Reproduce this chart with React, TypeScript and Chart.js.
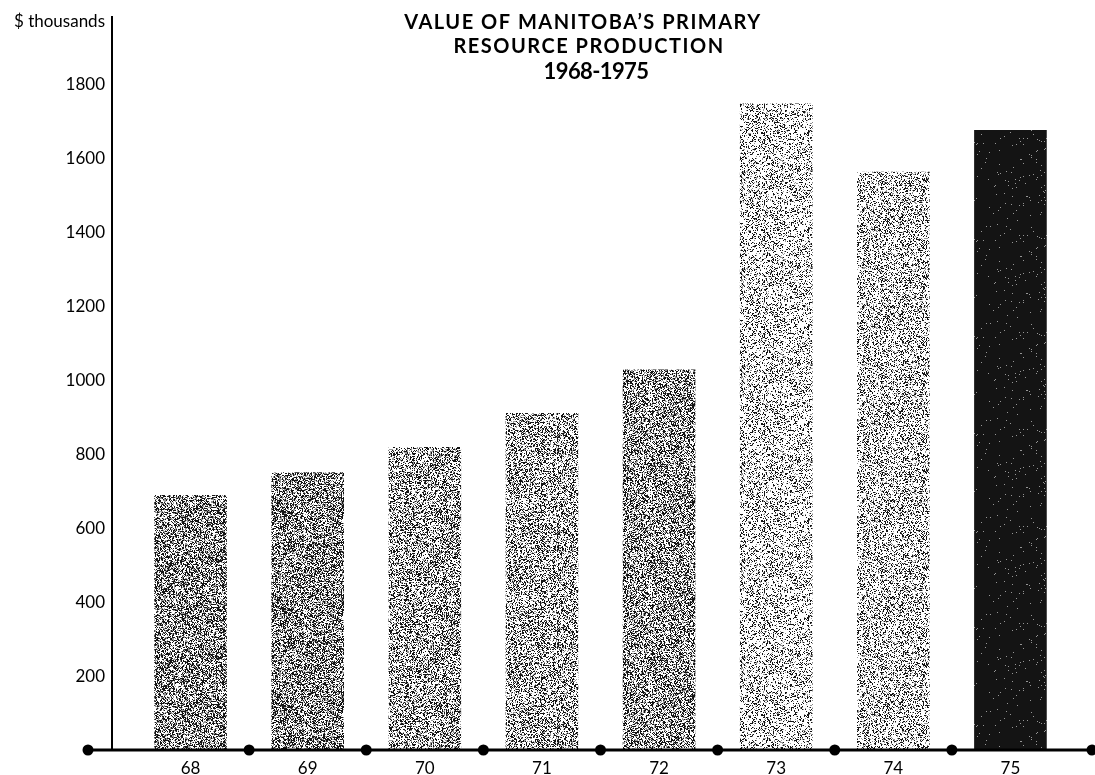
import React, { useEffect, useRef } from "react";
import { Chart, registerables } from "chart.js";

Chart.register(...registerables);

const CATEGORIES = ["68", "69", "70", "71", "72", "73", "74", "75"];
const VALUES = [690, 752, 820, 912, 1030, 1750, 1565, 1678];
const Y_MAX = 1800;
const Y_STEP = 200;
const TITLE_LINES = ["VALUE OF MANITOBA\u2019S PRIMARY", "RESOURCE PRODUCTION", "1968-1975"];
const Y_UNIT = "$ thousands";
const BAR_DENSITY = [0.4, 0.4, 0.33, 0.3, 0.365, 0.21, 0.245, 0.985];

const FONT = "Lato, 'Open Sans', sans-serif";
const TITLE_FONTS = [`bold 20px ${FONT}`, `bold 20px ${FONT}`, `bold 22px ${FONT}`];
const TITLE_SPACING = ["1.5px", "1.5px", "-0.6px"];
const TITLE_X = [583, 589, 596];
const TITLE_Y = [23, 47, 72];

function hash(x: number, y: number, s: number) {
  let n = (Math.imul(x, 374761393) + Math.imul(y, 668265263) + Math.imul(s, 982451653)) | 0;
  n = Math.imul(n ^ (n >>> 13), 1274126177);
  n = n ^ (n >>> 16);
  return (n >>> 0) / 4294967296;
}

function makePattern(density: number, seed: number): CanvasPattern | string {
  const size = 97;
  const c = document.createElement("canvas");
  c.width = size;
  c.height = size;
  const ctx = c.getContext("2d");
  if (!ctx) return "#888";
  const img = ctx.createImageData(size, size);
  for (let y = 0; y < size; y++) {
    for (let x = 0; x < size; x++) {
      const v = hash(x, y, seed + 1);
      let g = 255;
      if (v < density) g = 20;
      else if (v < Math.min(1, density * 1.5)) g = 150;
      const i = (y * size + x) * 4;
      img.data[i] = g;
      img.data[i + 1] = g;
      img.data[i + 2] = g;
      img.data[i + 3] = 255;
    }
  }
  ctx.putImageData(img, 0, 0);
  const p = ctx.createPattern(c, "repeat");
  return p || "#888";
}

const decorPlugin = {
  id: "decor",
  afterDraw(chart: any) {
    const ctx = chart.ctx as CanvasRenderingContext2D;
    const area = chart.chartArea;
    const xs = chart.scales.x;
    const W = chart.width;
    ctx.save();
    // y axis line
    const axX = area.left - 20;
    ctx.strokeStyle = "#000";
    ctx.lineWidth = 2;
    ctx.beginPath();
    ctx.moveTo(axX, 16);
    ctx.lineTo(axX, area.bottom);
    ctx.stroke();
    // x axis line
    const left = area.left - 44;
    const right = W - 3;
    ctx.lineWidth = 3;
    ctx.beginPath();
    ctx.moveTo(left, area.bottom);
    ctx.lineTo(right, area.bottom);
    ctx.stroke();
    // dots
    const dots: number[] = [left];
    for (let i = 0; i < CATEGORIES.length - 1; i++) {
      dots.push((xs.getPixelForValue(i) + xs.getPixelForValue(i + 1)) / 2);
    }
    dots.push(right);
    ctx.fillStyle = "#000";
    for (const d of dots) {
      ctx.beginPath();
      ctx.arc(d, area.bottom, 5.5, 0, Math.PI * 2);
      ctx.fill();
    }
    // unit label
    ctx.font = `17px ${FONT}`;
    ctx.textAlign = "right";
    ctx.textBaseline = "middle";
    ctx.fillText(Y_UNIT, area.left - 27, 22);
    // title
    ctx.textAlign = "center";
    TITLE_LINES.forEach((t, i) => {
      ctx.font = TITLE_FONTS[i];
      (ctx as any).letterSpacing = TITLE_SPACING[i];
      ctx.fillText(t, TITLE_X[i], TITLE_Y[i]);
    });
    ctx.restore();
  },
};

export default function App() {
  const ref = useRef<HTMLCanvasElement | null>(null);
  useEffect(() => {
    document.body.style.margin = "0";
    const canvas = ref.current;
    if (!canvas) return;
    const fills = BAR_DENSITY.map((d, i) => makePattern(d, i * 17));
    const chart = new Chart(canvas, {
      type: "bar",
      data: {
        labels: CATEGORIES,
        datasets: [
          {
            data: VALUES,
            backgroundColor: fills as any,
            borderWidth: 0,
            categoryPercentage: 1,
            barPercentage: 0.62,
          },
        ],
      },
      plugins: [decorPlugin],
      options: {
        responsive: false,
        animation: false,
        events: [],
        layout: { padding: { top: 85, right: 26, bottom: 0, left: 0 } },
        plugins: {
          legend: { display: false },
          tooltip: { enabled: false },
          title: { display: false },
        },
        scales: {
          x: {
            grid: { display: false, drawTicks: false },
            border: { display: false },
            ticks: {
              color: "#000",
              font: { family: FONT, size: 17 },
              padding: 8,
              maxRotation: 0,
            },
            afterFit(scale: any) {
              scale.height = 25;
              scale.paddingLeft = 0;
              scale.paddingRight = 0;
            },
          },
          y: {
            min: 0,
            max: Y_MAX,
            grid: { display: false, drawTicks: false },
            border: { display: false },
            ticks: {
              stepSize: Y_STEP,
              color: "#000",
              font: { family: FONT, size: 17 },
              padding: 27,
              callback: (v: any) => (Number(v) === 0 ? "" : String(v)),
            },
            afterFit(scale: any) {
              scale.width = 132;
              scale.paddingTop = 0;
              scale.paddingBottom = 0;
            },
          },
        },
      },
    });
    return () => chart.destroy();
  }, []);
  return (
    <div style={{ width: 1095, height: 775, background: "#fff" }}>
      <canvas ref={ref} width={1095} height={775} style={{ width: 1095, height: 775, display: "block" }} />
    </div>
  );
}
